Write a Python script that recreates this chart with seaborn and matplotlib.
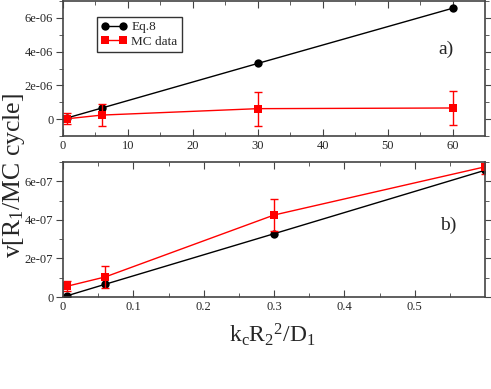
import numpy as np
import pandas as pd
import matplotlib
matplotlib.use("Agg")
import matplotlib.pyplot as plt
import seaborn as sns

# panel a) data
x_a = [0.6, 6, 30, 60]
eq8_a = [0.066e-6, 0.66e-6, 3.3e-6, 6.57e-6]
mc_a = [0.02e-6, 0.24e-6, 0.62e-6, 0.66e-6]
mc_a_err = [0.33e-6, 0.66e-6, 1.0e-6, 1.0e-6]

# panel b) data
x_b = [0.006, 0.06, 0.3, 0.6]
eq8_b = [0.66e-8, 6.6e-8, 3.28e-7, 6.57e-7]
mc_b = [5.6e-8, 1.04e-7, 4.25e-7, 6.75e-7]
mc_b_err = [2.7e-8, 5.8e-8, 8.2e-8, 3.5e-8]

sns.set_style("ticks")
plt.rcParams["font.family"] = ["Liberation Serif", "DejaVu Serif"]
plt.rcParams["mathtext.fontset"] = "custom"
plt.rcParams["mathtext.rm"] = "Liberation Serif"
plt.rcParams["mathtext.default"] = "regular"

fig = plt.figure(figsize=(4.91, 3.89), dpi=100)
ax1 = fig.add_axes([63 / 491, 1 - 136 / 389, 422 / 491, 135 / 389])
ax2 = fig.add_axes([63 / 491, 1 - 297 / 389, 422 / 491, 135 / 389])


def draw(ax, x, eq8, mc, err):
    df_eq = pd.DataFrame({"x": x, "y": eq8})
    df_mc = pd.DataFrame({"x": x, "y": mc})
    sns.lineplot(data=df_eq, x="x", y="y", ax=ax, color="black", marker="o",
                 markersize=6, markeredgewidth=0, linewidth=1, label="Eq.8")
    ax.errorbar(x, mc, yerr=err, fmt="none", ecolor="red", elinewidth=1,
                capsize=3, capthick=1)
    sns.lineplot(data=df_mc, x="x", y="y", ax=ax, color="red", marker="s",
                 markersize=5.5, markeredgewidth=0, linewidth=1, label="MC data")


draw(ax1, x_a, eq8_a, mc_a, mc_a_err)
draw(ax2, x_b, eq8_b, mc_b, mc_b_err)

ax1.set_xlim(0, 65)
ax1.set_ylim(-1e-6, 7e-6)
ax1.set_xticks([0, 10, 20, 30, 40, 50, 60])
ax1.set_xticks(np.arange(5, 65, 10), minor=True)
ax1.set_yticks([0, 2e-6, 4e-6, 6e-6])
ax1.set_yticklabels(["0", "2e-06", "4e-06", "6e-06"])
ax1.set_yticks([-1e-6, 1e-6, 3e-6, 5e-6, 7e-6], minor=True)

ax2.set_xlim(0, 0.6)
ax2.set_ylim(0, 7e-7)
ax2.set_xticks([0, 0.1, 0.2, 0.3, 0.4, 0.5])
ax2.set_xticklabels(["0", "0.1", "0.2", "0.3", "0.4", "0.5"])
ax2.set_xticks([0.05, 0.15, 0.25, 0.35, 0.45, 0.55], minor=True)
ax2.set_yticks([0, 2e-7, 4e-7, 6e-7])
ax2.set_yticklabels(["0", "2e-07", "4e-07", "6e-07"])
ax2.set_yticks([1e-7, 3e-7, 5e-7, 7e-7], minor=True)

for ax in (ax1, ax2):
    ax.set_xlabel("")
    ax.set_ylabel("")
    for s in ax.spines.values():
        s.set_visible(True)
        s.set_color("#444444")
        s.set_linewidth(1.2)
    ax.tick_params(axis="both", which="both", labelsize=9, color="#444444",
                   top=True, right=True)
    ax.tick_params(axis="x", which="major", direction="in", length=5, pad=3)
    ax.tick_params(axis="x", which="minor", direction="in", length=3)
    ax.tick_params(axis="y", which="major", direction="out", length=5, pad=2)
    ax.tick_params(axis="y", which="minor", direction="out", length=3)

ax2.get_legend().remove()
leg = ax1.legend(loc="upper left", bbox_to_anchor=(0.065, 0.93), fontsize=9.5,
                 frameon=True, fancybox=False, edgecolor="black", numpoints=2,
                 handlelength=2.0, borderpad=0.3, labelspacing=0.2,
                 handletextpad=0.3)
leg.get_frame().set_linewidth(1)

ax1.text(0.908, 0.64, "a)", transform=ax1.transAxes, fontsize=14,
         ha="center", va="center")
ax2.text(0.913, 0.53, "b)", transform=ax2.transAxes, fontsize=14,
         ha="center", va="center")

fig.text(14 / 491, 1 - 175 / 389, "v[R$_1$/MC cycle]", rotation=90,
         fontsize=18.5, ha="center", va="center")
fig.text(272 / 491, 1 - 335 / 389, "k$_c$R$_2$$^2$/D$_1$", fontsize=17,
         ha="center", va="center")

fig.savefig("out.png", dpi=100)
